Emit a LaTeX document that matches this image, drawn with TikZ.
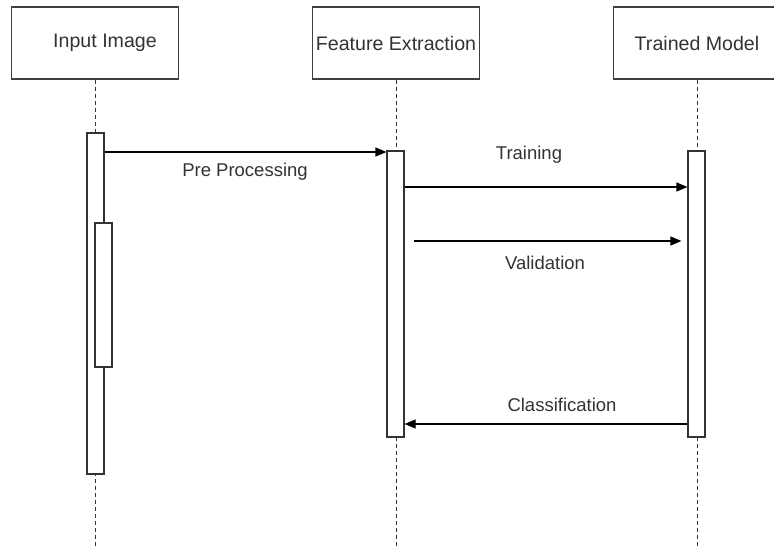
\documentclass[tikz,border=0pt]{standalone}
\usepackage{fontspec}
\setmainfont{Liberation Sans}
\usepackage{tikz}
\usetikzlibrary{arrows.meta,positioning}

\tikzset{
  actor/.style={draw=black!75, line width=1.3pt, minimum width=167pt, minimum height=72pt, inner sep=0pt},
  actbar/.style={draw=black!80, line width=1.1pt, fill=white, minimum width=17pt, inner sep=0pt},
  msg/.style={line width=1.1pt, -{Triangle[length=11pt,width=9pt]}},
  lbl/.style={text=black!80, inner sep=1pt, font=\fontsize{18.5}{22}\selectfont}
}

\begin{document}
\begin{tikzpicture}[x=1pt, y=-1pt, font=\fontsize{19.6}{23}\selectfont]
\clip (0,0) rectangle (774,556);
\fill[white] (0,0) rectangle (774,556);
% participants + life lines
\foreach \x/\name/\txt/\dx in {95/img/Input Image/10, 396/feat/Feature Extraction/0, 697/model/Trained Model/0} {
  \node[actor] (\name) at (\x,43) {};
  \node[text=black!80, inner sep=0pt] (\name-txt) at ([xshift=\dx pt]\name.center) {\txt};
  \draw[dashed, line width=1pt, black!80, dash pattern=on 4pt off 3pt] (\name.south) -- (\x,548);
}
% activation bars
\node[actbar, minimum height=341pt] (imgA) at (95.5,303.5) {};
\node[actbar, minimum height=144pt] (imgB) at (103.5,295) {};
\node[actbar, minimum height=286pt] (featA) at (395.5,294) {};
\node[actbar, minimum height=286pt] (modelA) at (696.5,294) {};
% messages
\draw[msg] (imgA.east |- 0,152) -- (featA.west |- 0,152);
\draw[msg] (featA.east |- 0,187) -- (modelA.west |- 0,187);
\draw[msg, shorten <=9pt, shorten >=6pt] (featA.east |- 0,241) -- (modelA.west |- 0,241);
\draw[msg] (modelA.west |- 0,424) -- (featA.east |- 0,424);
\node[lbl] (pre) at (245,172) {Pre Processing};
\node[lbl] (train) at (529,155) {Training};
\node[lbl] (valid) at (545,263) {Validation};
\node[lbl] (cls) at (562,405) {Classification};
\end{tikzpicture}
\end{document}
